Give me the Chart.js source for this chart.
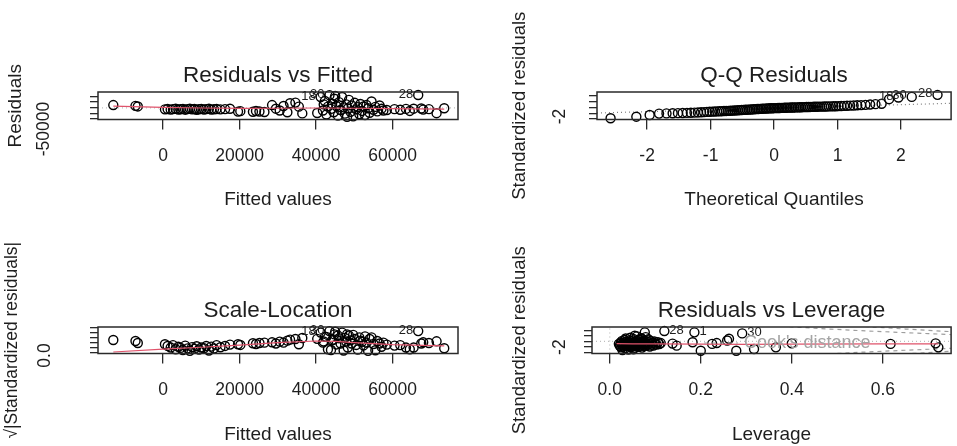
<!DOCTYPE html>
<html><head><meta charset="utf-8">
<script src="https://cdn.jsdelivr.net/npm/chart.js@4"></script>
<style>
html,body{margin:0;padding:0;background:#fff;}
#wrap{position:relative;width:957px;height:446px;overflow:hidden;background:#fff;}
canvas{position:absolute;}
</style></head><body>
<div id="wrap">
<canvas id="c1" width="478" height="223" style="left:0;top:0;width:478px;height:223px"></canvas>
<canvas id="c2" width="479" height="223" style="left:478px;top:0;width:479px;height:223px"></canvas>
<canvas id="c3" width="478" height="223" style="left:0;top:223px;width:478px;height:223px"></canvas>
<canvas id="c4" width="479" height="223" style="left:478px;top:223px;width:479px;height:223px"></canvas>
</div>
<script>
// ---------- Residuals vs Fitted ----------
const rvfFitted = [
-13000,-7200,-6600,
500,1200,2000,2600,3300,4000,4600,5200,5800,6400,7000,7600,8200,8800,9400,10000,10700,11300,12000,12600,13300,14000,15000,16200,17500,
19600,20200,23500,24300,25200,26500,
28500,29500,30500,31500,32500,33200,34600,36400,
40300,41200,41800,42300,42700,43100,43500,43900,44200,44600,45000,45300,45700,46000,46400,46800,47200,47500,47900,48300,48600,49000,49300,49700,50100,50500,50900,51300,51600,52000,52400,52800,53200,53600,54000,54500,55000,55500,56000,56600,57100,57600,44800,42000,48100,
58500,60500,62000,63500,64500,65500,66700,67500,68000,69500,71500,73500,
35500];
const rvfResid = [
12000,8500,6000,
-7000,-5500,-8000,-6000,-4500,-7500,-6500,-5000,-8500,-6000,-4000,-7000,-5500,-9000,-6500,-5000,-7500,-6000,-4500,-8000,-6500,-5500,-7000,-6000,-4500,
-17000,-15000,-17500,-14500,-16500,-18500,
12000,-4000,-12000,8000,-20000,20000,23000,-25000,
-23000,48000,-12000,30000,-30000,5000,56000,-5000,18000,-20000,52000,8000,-35000,25000,-10000,48000,2000,-26000,15000,-3000,35000,-18000,10000,-38000,22000,-7000,3000,-28000,17000,-14000,6000,-32000,12000,-2000,-22000,28000,-9000,4000,-16000,10000,-4000,-12000,40000,15000,-40000,
-10000,-6000,-9000,-5000,-14000,-4000,56700,-3000,-8000,-6000,-24000,-2000,
5000];
const rvfSmoothX = [-13000,0,10000,20000,30000,40000,50000,60000,73500];
const rvfSmoothY = [7000,2000,-1000,-3000,-2000,-1000,-2000,-4000,-6000];
const rvfZeroX = [-17000,77100];
const rvfZeroY = [0,0];
const rvfIdText = ['18','30','28'];
const rvfIdX = [41200,43500,66700];
const rvfIdY = [48000,56000,56700];
const fitXTicks = [0,20000,40000,60000];
const fitXTickLabels = ['0','20000','40000','60000'];
const rvfYTicks = [-50000,-25000,0,25000,50000];
const rvfYTickLabels = ['-50000','','','',''];

// ---------- Q-Q Residuals ----------
const qqTheo = [
-2.576,-2.170,-1.960,-1.812,-1.695,-1.598,-1.514,-1.440,-1.372,-1.311,
-1.254,-1.200,-1.150,-1.103,-1.058,-1.015,-0.974,-0.935,-0.896,-0.860,
-0.824,-0.789,-0.755,-0.722,-0.690,-0.659,-0.628,-0.598,-0.568,-0.539,
-0.510,-0.482,-0.454,-0.426,-0.399,-0.372,-0.345,-0.319,-0.292,-0.266,
-0.240,-0.215,-0.189,-0.164,-0.138,-0.113,-0.088,-0.063,-0.038,-0.013,
0.013,0.038,0.063,0.088,0.113,0.138,0.164,0.189,0.215,0.240,
0.266,0.292,0.319,0.345,0.372,0.399,0.426,0.454,0.482,0.510,
0.539,0.568,0.598,0.628,0.659,0.690,0.722,0.755,0.789,0.824,
0.860,0.896,0.935,0.974,1.015,1.058,1.103,1.150,1.200,1.254,
1.311,1.372,1.440,1.514,1.598,1.695,1.812,1.960,2.170,2.576];
const qqStd = [
-1.88,-1.60,-1.31,-1.06,-1.03,-1.00,-0.98,-0.96,-0.94,-0.92,
-0.89,-0.86,-0.83,-0.80,-0.77,-0.74,-0.72,-0.70,-0.68,-0.66,
-0.64,-0.62,-0.60,-0.58,-0.56,-0.54,-0.52,-0.50,-0.48,-0.46,
-0.44,-0.42,-0.40,-0.38,-0.37,-0.35,-0.33,-0.31,-0.29,-0.27,
-0.25,-0.24,-0.22,-0.20,-0.19,-0.17,-0.16,-0.14,-0.13,-0.12,
-0.11,-0.10,-0.09,-0.08,-0.07,-0.06,-0.05,-0.04,-0.03,-0.02,
-0.01,0.00,0.01,0.02,0.03,0.04,0.05,0.06,0.07,0.08,
0.09,0.10,0.11,0.12,0.13,0.14,0.15,0.16,0.17,0.18,
0.19,0.20,0.21,0.22,0.24,0.26,0.28,0.30,0.32,0.35,
0.38,0.42,0.46,0.52,0.58,0.66,1.45,1.75,1.85,2.20];
const qqLineX = [-2.79,2.79];
const qqLineY = [-0.96,0.73];
const qqIdText = ['18','30','28'];
const qqIdX = [1.960,2.170,2.576];
const qqIdY = [1.75,1.85,2.20];
const qqXTicks = [-2,-1,0,1,2];
const qqXTickLabels = ['-2','-1','0','1','2'];
const stdYTicks = [-2,-1,0,1,2];
const stdYTickLabels = ['-2','','','',''];

// ---------- Scale-Location ----------
const slSqrt = [
0.76,0.70,0.58,
0.50,0.40,0.30,0.45,0.20,0.35,0.28,0.15,0.42,0.25,0.10,0.33,0.22,0.38,0.18,0.30,0.26,0.40,0.12,0.36,0.24,0.45,0.32,0.40,0.48,
0.50,0.46,0.56,0.52,0.58,0.60,
0.62,0.55,0.66,0.60,0.72,0.78,0.82,0.88,
0.83,1.21,0.60,0.95,0.95,0.20,1.30,0.15,0.74,0.78,1.26,0.49,1.03,0.87,0.55,1.21,0.12,0.89,0.67,0.30,1.03,0.74,0.55,1.07,0.82,0.46,0.18,0.92,0.72,0.65,0.43,0.98,0.60,0.10,0.82,0.92,0.52,0.14,0.70,0.55,0.35,0.60,1.10,0.67,1.10,
0.48,0.42,0.45,0.30,0.20,0.30,1.30,0.55,0.62,0.58,0.68,0.26,
0.50];
const slSmoothX = [-13000,0,10000,20000,30000,40000,45000,50000,60000,73500];
const slSmoothY = [0.03,0.20,0.32,0.45,0.60,0.70,0.68,0.60,0.48,0.40];
const slIdText = ['18','30','28'];
const slIdX = [41200,43500,66700];
const slIdY = [1.21,1.30,1.30];
const slYTicks = [0,0.3,0.6,0.9,1.2,1.5];
const slYTickLabels = ['0.0','','','','',''];

// ---------- Residuals vs Leverage ----------
const rvlLeverage = [
0.020,0.022,0.024,0.025,0.026,0.027,0.028,0.029,0.030,0.031,
0.032,0.033,0.034,0.035,0.036,0.037,0.038,0.039,0.040,0.041,
0.042,0.043,0.044,0.045,0.046,0.047,0.048,0.049,0.050,0.051,
0.052,0.053,0.054,0.055,0.056,0.057,0.058,0.059,0.060,0.061,
0.062,0.063,0.064,0.065,0.066,0.067,0.068,0.069,0.070,0.071,
0.072,0.073,0.074,0.075,0.076,0.077,0.078,0.079,0.080,0.082,
0.084,0.086,0.088,0.090,0.092,0.094,0.096,0.098,0.100,0.103,
0.106,0.109,0.112,0.035,0.045,0.060,0.070,0.085,0.028,0.052,
0.055,0.077,0.120,0.138,0.147,0.182,0.186,0.200,0.225,0.235,
0.258,0.262,0.278,0.291,0.317,0.365,0.400,0.617,0.716,0.722];
const rvlStd = [
-0.45,-0.80,-0.20,-1.10,-0.55,0.10,-0.70,-0.35,-0.95,-0.15,
-0.60,0.30,-1.30,-0.40,-0.75,-0.05,-0.50,-0.90,-0.25,-1.50,
-0.65,0.20,-0.30,-0.85,-0.45,-1.05,0.05,-0.55,-0.20,-0.75,
0.45,-0.40,-1.20,-0.10,-0.60,-0.35,-0.90,0.15,-0.50,-0.70,
-0.25,-1.00,0.35,-0.45,-0.15,-0.80,-0.55,0.60,-0.30,-1.15,
-0.05,-0.65,-0.40,0.25,-0.85,-0.20,-0.50,0.80,-0.35,-0.70,
-0.10,-0.45,-0.95,0.10,-0.55,-0.25,-0.75,0.00,-0.40,-0.60,
-0.15,-0.50,-0.30,0.55,0.70,0.95,0.50,0.40,-1.60,-1.45,
1.06,1.70,1.94,-0.40,-0.78,-0.15,1.70,-1.74,-0.46,-0.30,
0.17,0.50,-1.74,1.50,-1.41,-1.10,-0.35,-0.46,-0.35,-1.10];
const rvlSmoothX = [0.015,0.05,0.10,0.20,0.30,0.40,0.60,0.722];
const rvlSmoothY = [-0.42,-0.45,-0.45,-0.50,-0.55,-0.50,-0.45,-0.45];
const rvlZeroHX = [-0.039,0.75];
const rvlZeroHY = [0,0];
const rvlZeroVX = [0,0];
const rvlZeroVY = [-2.25,2.70];
const cookLev = [0.36,0.38,0.40,0.45,0.50,0.55,0.60,0.65,0.70,0.75];
const cookHalfUpper = [2.99,2.86,2.74,2.47,2.24,2.02,1.83,1.64,1.46,1.29];
const cookHalfLower = [-2.99,-2.86,-2.74,-2.47,-2.24,-2.02,-1.83,-1.64,-1.46,-1.29];
const cookOneLev = [0.56,0.58,0.60,0.65,0.70,0.75];
const cookOneUpper = [2.80,2.69,2.58,2.32,2.07,1.83];
const cookOneLower = [-2.80,-2.69,-2.58,-2.32,-2.07,-1.83];
const rvlIdText = ['28','1','30'];
const rvlIdX = [0.120,0.186,0.291];
const rvlIdY = [1.94,1.70,1.50];
const levXTicks = [0,0.2,0.4,0.6];
const levXTickLabels = ['0.0','0.2','0.4','0.6'];

// ---------- drawing ----------
const INK = '#1e1e1e';
const RED = '#DF536B';
Chart.defaults.font.family = '"Liberation Sans", Arial, Helvetica, sans-serif';
Chart.defaults.color = INK;

const zip = (xs, ys) => xs.map((x, i) => ({x, y: ys[i]}));

const framePlugin = {
  id: 'frame',
  afterDatasetsDraw(chart) {
    const {ctx, chartArea: a} = chart;
    ctx.save();
    ctx.strokeStyle = '#2a2a2a';
    ctx.lineWidth = 1.5;
    ctx.strokeRect(a.left, a.top, a.right - a.left, a.bottom - a.top);
    ctx.restore();
  }
};
function idPlugin(texts, xs, ys, side) {
  return {
    id: 'ids',
    afterDatasetsDraw(chart) {
      const {ctx} = chart;
      const sx = chart.scales.x, sy = chart.scales.y;
      ctx.save();
      ctx.font = '13px "Liberation Sans", Arial, sans-serif';
      ctx.fillStyle = INK;
      ctx.textBaseline = 'middle';
      ctx.textAlign = side === 'left' ? 'right' : 'left';
      texts.forEach((t, i) => {
        const px = sx.getPixelForValue(xs[i]);
        const py = sy.getPixelForValue(ys[i]);
        ctx.fillText(t, side === 'left' ? px - 5 : px + 5, py - 1);
      });
      ctx.restore();
    }
  };
}
const cookLegendPlugin = {
  id: 'cookLegend',
  afterDatasetsDraw(chart) {
    const {ctx, chartArea: a} = chart;
    ctx.save();
    ctx.strokeStyle = '#9E9E9E';
    ctx.lineWidth = 1;
    ctx.setLineDash([4, 4]);
    const y = a.top + 16;
    ctx.beginPath(); ctx.moveTo(a.left + 112, y); ctx.lineTo(a.left + 146, y); ctx.stroke();
    ctx.setLineDash([]);
    ctx.fillStyle = '#A4A4A4';
    ctx.font = '18px "Liberation Sans", Arial, sans-serif';
    ctx.textAlign = 'left';
    ctx.textBaseline = 'middle';
    ctx.fillText("Cook's distance", a.left + 152, y);
    ctx.restore();
  }
};

function pointsDS(data) {
  return {data, showLine: false, pointStyle: 'circle', pointRadius: 4.5, pointBorderWidth: 1.4,
    pointBorderColor: '#000', pointBackgroundColor: 'rgba(0,0,0,0)', clip: false, order: 1};
}
function lineDS(data, color, dash, order) {
  return {data, showLine: true, pointRadius: 0, borderColor: color, borderWidth: 1.2,
    borderDash: dash, backgroundColor: 'rgba(0,0,0,0)', fill: false, tension: 0, order};
}

function xScale(min, max, ticks, labels, title, g) {
  return {
    type: 'linear', position: 'bottom', min, max, bounds: 'data',
    afterBuildTicks: s => { s.ticks = ticks.map(v => ({value: v})); },
    afterFit: s => { s.height = g.xHeight; },
    grid: {drawOnChartArea: false, drawTicks: true, tickLength: 10, color: '#2a2a2a', lineWidth: 1.3},
    border: {display: false},
    ticks: {autoSkip: false, minRotation: 0, maxRotation: 0, padding: g.xTickPad, color: INK,
      font: {size: 17.5}, callback: (v, i) => labels[i]},
    title: {display: true, text: title, color: INK, font: {size: 19}, padding: {top: 0, bottom: g.xTitlePad}}
  };
}
function yScale(min, max, ticks, labels, title, g) {
  return {
    type: 'linear', position: 'left', min, max, bounds: 'data',
    afterBuildTicks: s => { s.ticks = ticks.map(v => ({value: v})); },
    afterFit: s => { s.width = g.yWidth; },
    grid: {drawOnChartArea: false, drawTicks: true, tickLength: 8, color: '#2a2a2a', lineWidth: 1.3},
    border: {display: false},
    ticks: {autoSkip: false, minRotation: 90, maxRotation: 90, crossAlign: 'center', padding: g.yTickPad,
      labelOffset: g.yLabelOffset, color: INK, font: {size: 17.5}, callback: (v, i) => labels[i]},
    title: {display: true, text: title, color: INK, font: {size: g.yTitleSize}, padding: {top: g.yTitlePad, bottom: 0}}
  };
}
function panel(id, g, title, datasets, x, y, extraPlugins) {
  new Chart(document.getElementById(id), {
    type: 'scatter',
    data: {datasets},
    options: {
      responsive: false, animation: false, events: [], devicePixelRatio: 1,
      layout: {padding: {left: 0, top: 0, bottom: 0, right: g.padRight}},
      plugins: {
        legend: {display: false}, tooltip: {enabled: false},
        title: {display: true, text: title, fullSize: false, color: INK,
          font: {size: 22.5, weight: 'normal'}, padding: {top: g.titleTop, bottom: g.titleBottom}}
      },
      scales: {x, y}
    },
    plugins: [framePlugin].concat(extraPlugins)
  });
}

const gTL = {padRight: 20, titleTop: 62.5, titleBottom: 2.5, xHeight: 103.5, yWidth: 98, xTickPad: 16, xTitlePad: 11.6, yTickPad: 18.5, yTitlePad: 4.6, yTitleSize: 19, yLabelOffset: 10};
const gTR = {padRight: 4, titleTop: 62.5, titleBottom: 2.5, xHeight: 103.5, yWidth: 119, xTickPad: 16, xTitlePad: 11.6, yTickPad: 21.4, yTitlePad: 31, yTitleSize: 18.5, yLabelOffset: -2.5};
const gBL = {padRight: 20, titleTop: 74, titleBottom: 3, xHeight: 92.5, yWidth: 98, xTickPad: 16, xTitlePad: 0, yTickPad: 33, yTitlePad: 1.2, yTitleSize: 17.5, yLabelOffset: 3};
const gBR = {padRight: 4, titleTop: 74, titleBottom: 3, xHeight: 92.5, yWidth: 114, xTickPad: 16, xTitlePad: 0, yTickPad: 16.4, yTitlePad: 31, yTitleSize: 18.5, yLabelOffset: -5};

panel('c1', gTL, 'Residuals vs Fitted', [
  lineDS(zip(rvfSmoothX, rvfSmoothY), RED, [], 0),
  pointsDS(zip(rvfFitted, rvfResid)),
  lineDS(zip(rvfZeroX, rvfZeroY), '#BEBEBE', [1, 3], 2)
], xScale(-17000, 77100, fitXTicks, fitXTickLabels, 'Fitted values', gTL),
   yScale(-52000, 70000, rvfYTicks, rvfYTickLabels, 'Residuals', gTL),
   [idPlugin(rvfIdText, rvfIdX, rvfIdY, 'left')]);

panel('c2', gTR, 'Q-Q Residuals', [
  pointsDS(zip(qqTheo, qqStd)),
  lineDS(zip(qqLineX, qqLineY), '#7F7F7F', [1, 3], 2)
], xScale(-2.79, 2.79, qqXTicks, qqXTickLabels, 'Theoretical Quantiles', gTR),
   yScale(-2.09, 2.70, stdYTicks, stdYTickLabels, 'Standardized residuals', gTR),
   [idPlugin(qqIdText, qqIdX, qqIdY, 'left')]);

panel('c3', gBL, 'Scale-Location', [
  lineDS(zip(slSmoothX, slSmoothY), RED, [], 0),
  pointsDS(zip(rvfFitted, slSqrt))
], xScale(-17000, 77100, fitXTicks, fitXTickLabels, 'Fitted values', gBL),
   yScale(-0.06, 1.55, slYTicks, slYTickLabels, '\u221A|Standardized residuals|', gBL),
   [idPlugin(slIdText, slIdX, slIdY, 'left')]);

panel('c4', gBR, 'Residuals vs Leverage', [
  lineDS(zip(rvlSmoothX, rvlSmoothY), RED, [], 0),
  pointsDS(zip(rvlLeverage, rvlStd)),
  lineDS(zip(rvlZeroHX, rvlZeroHY), '#BEBEBE', [1, 3], 3),
  lineDS(zip(rvlZeroVX, rvlZeroVY), '#BEBEBE', [1, 3], 3),
  lineDS(zip(cookLev, cookHalfUpper), '#9E9E9E', [4, 4], 2),
  lineDS(zip(cookLev, cookHalfLower), '#9E9E9E', [4, 4], 2),
  lineDS(zip(cookOneLev, cookOneUpper), '#9E9E9E', [4, 4], 2),
  lineDS(zip(cookOneLev, cookOneLower), '#9E9E9E', [4, 4], 2)
], xScale(-0.039, 0.75, levXTicks, levXTickLabels, 'Leverage', gBR),
   yScale(-2.25, 2.70, stdYTicks, stdYTickLabels, 'Standardized residuals', gBR),
   [idPlugin(rvlIdText, rvlIdX, rvlIdY, 'right'), cookLegendPlugin]);
</script>
</body></html>
